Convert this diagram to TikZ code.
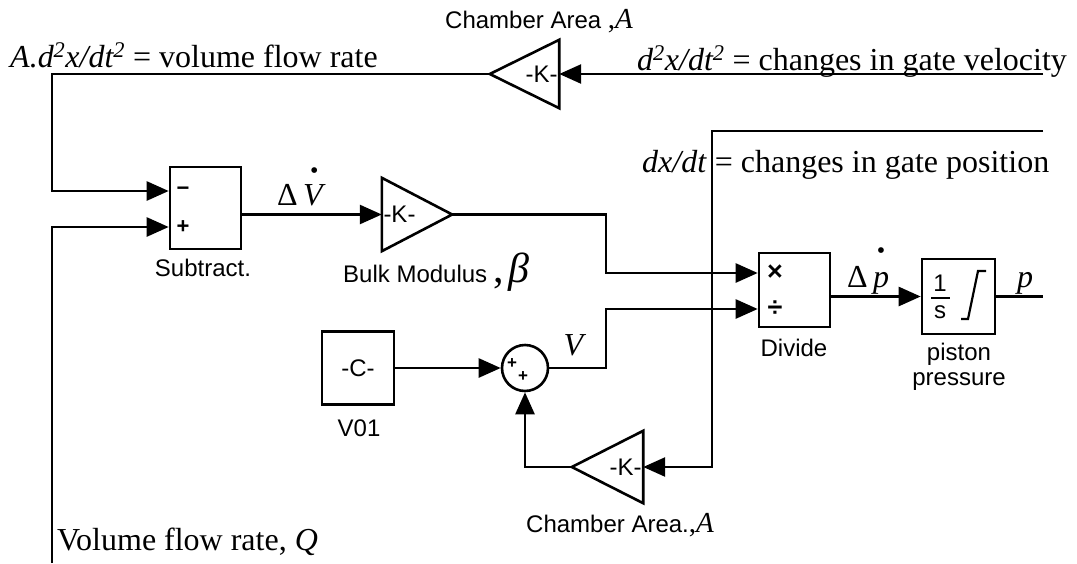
\documentclass[tikz,border=0pt]{standalone}
\usepackage{fontspec}
\setmainfont{Liberation Serif}
\setsansfont{Liberation Sans}
\usetikzlibrary{arrows.meta}
\newcommand\topdot[2]{\vbox{\offinterlineskip\halign{\hfil##\hfil\cr{\fontsize{24}{24}\selectfont\textbullet}\cr\noalign{\kern#1}#2\cr}}}
\tikzset{
  wire/.style={line width=2.6pt},
  arr/.style={wire,-{Triangle[length=22pt,width=19pt]}},
  blk/.style={draw,line width=2.6pt,inner sep=0pt},
  gainbox/.style={inner sep=0pt,draw=none},
  gainline/.style={line width=2.6pt},
  sf/.style={inner sep=0pt,font=\sffamily\fontsize{24}{25}\selectfont},
  rm/.style={inner sep=0pt,font=\fontsize{32}{34}\selectfont},
  sign/.style={inner sep=0pt,font=\sffamily\bfseries\fontsize{22}{22}\selectfont},
}
\begin{document}
\begin{tikzpicture}[x=1pt,y=1pt]
\useasboundingbox (0,0) rectangle (1077,-563);
% ---------- blocks
\node[blk,minimum width=71pt,minimum height=82pt] (sub) at (205.5,-208) {};
\node[blk,minimum width=71pt,minimum height=74pt] (div) at (794.5,-290) {};
\node[blk,minimum width=73pt,minimum height=75pt] (int) at (958.5,-296.5) {};
\node[blk,minimum width=72pt,minimum height=73pt,sf] (const) at (358,-368) {-C-};
\node[blk,circle,minimum size=46pt] (sum) at (525,-368) {};
% gains
\node[gainbox,minimum width=69pt,minimum height=68pt] (g1) at (524.5,-74) {};
\draw[gainline] (g1.north east) -- (g1.west) -- (g1.south east) -- cycle;
\node[sf,anchor=east,inner sep=1.5pt] (k1) at (g1.east) {-K-};
\node[gainbox,minimum width=70pt,minimum height=73pt] (g2) at (417,-214.5) {};
\draw[gainline] (g2.north west) -- (g2.east) -- (g2.south west) -- cycle;
\node[sf,anchor=west,inner sep=1.5pt] (k2) at (g2.west) {-K-};
\node[gainbox,minimum width=71pt,minimum height=72pt] (g3) at (607.5,-467) {};
\draw[gainline] (g3.north east) -- (g3.west) -- (g3.south east) -- cycle;
\node[sf,anchor=east,inner sep=1.5pt] (k3) at (g3.east) {-K-};
% ---------- block inner marks
\node[sign] (s1) at (183,-191) {−};
\node[sign] (s2) at (183,-227) {+};
\node[sign,font=\sffamily\bfseries\fontsize{27}{27}\selectfont] (s3) at (775,-273) {×};
\node[sign,font=\sffamily\bfseries\fontsize{27}{27}\selectfont] (s4) at (775,-309) {÷};
\node[sign,font=\sffamily\bfseries\fontsize{17}{17}\selectfont] (s5) at (512,-364) {+};
\node[sign,font=\sffamily\bfseries\fontsize{17}{17}\selectfont] (s6) at (523,-377) {+};
\node[sf] (one) at (940,-283) {1};
\node[sf] (ess) at (940,-312) {s};
\draw[line width=1.8pt] (931,-298) -- (950,-298);
\draw[line width=2.2pt] (961,-319) -- (968,-319) -- (978,-271) -- (986,-271);
% ---------- connectors
\coordinate (in1) at (1043,-74);
\coordinate (qin) at (52,-563);
\coordinate (vel) at (1043,-131);
\coordinate (pout) at (1043,-296.5);
\draw[arr] (in1) -- (g1.east);
\draw[arr] (g1.west) -- (52,-74) -- (52,-191) -- ([yshift=17pt]sub.west);
\draw[arr] (qin) |- ([yshift=-19pt]sub.west);
\draw[arr] (sub.east |- g2.west) -- (g2.west);
\draw[arr] (g2.east) -- (606,-214.5) -- (606,-273) -- ([yshift=17pt]div.west);
\draw[arr] (sum.east) -- (606,-368) -- (606,-309) -- ([yshift=-19pt]div.west);
\draw[arr] (div.east |- int.west) -- (int.west);
\draw[wire] (int.east) -- (pout);
\draw[arr] (const.east) -- (sum.west);
\draw[arr] (vel) -- (712,-131) -- (712,-467) -- (g3.east);
\draw[arr] (g3.west) -| (sum.south);
% ---------- labels
\node[sf] (lsub) at (203,-268) {Subtract.};
\node[sf] (ldiv) at (794,-348) {Divide};
\node[sf,align=center,font=\sffamily\fontsize{24}{25}\selectfont] (lint) at (959,-367) {piston\\pressure};
\node[sf] (lconst) at (359,-428) {V01};
\node[anchor=base west,inner sep=0pt] (lg1) at (445,-28) {\sffamily\fontsize{24}{25}\selectfont Chamber Area \rmfamily\fontsize{29}{30}\selectfont,\textit{A}};
\node[anchor=base west,inner sep=0pt] (lg2) at (343,-282) {\sffamily\fontsize{24}{25}\selectfont Bulk Modulus \rmfamily\fontsize{42}{44}\selectfont,\kern4pt\textit{β}};
\node[anchor=base west,inner sep=0pt] (lg3) at (526,-532) {\sffamily\fontsize{24}{25}\selectfont Chamber Area.\rmfamily\fontsize{29}{30}\selectfont,\textit{A}};
\node[rm,anchor=base west] (tl) at (10,-67) {\textit{A.d\textsuperscript{2}x/dt\textsuperscript{2}} = volume flow rate};
\node[rm,anchor=base west] (tr) at (637,-70) {\textit{d\textsuperscript{2}x/dt\textsuperscript{2}} = changes in gate velocity};
\node[rm,anchor=base west] (mr) at (642,-172) {\textit{dx/dt} = changes in gate position};
\node[rm,anchor=base west] (bl) at (57,-550) {Volume flow rate, \textit{Q}};
\node[rm,anchor=base] (lv) at (575,-355) {\textit{V}};
\node[rm,anchor=base] (lp) at (1025,-287) {\textit{p}};
\node[rm,anchor=base west] (ldv) at (277,-205) {Δ\,\topdot{6pt}{\textit{V}}};
\node[rm,anchor=base west] (ldp) at (847,-287) {Δ\,\topdot{13pt}{\textit{p}}};
\end{tikzpicture}
\end{document}
